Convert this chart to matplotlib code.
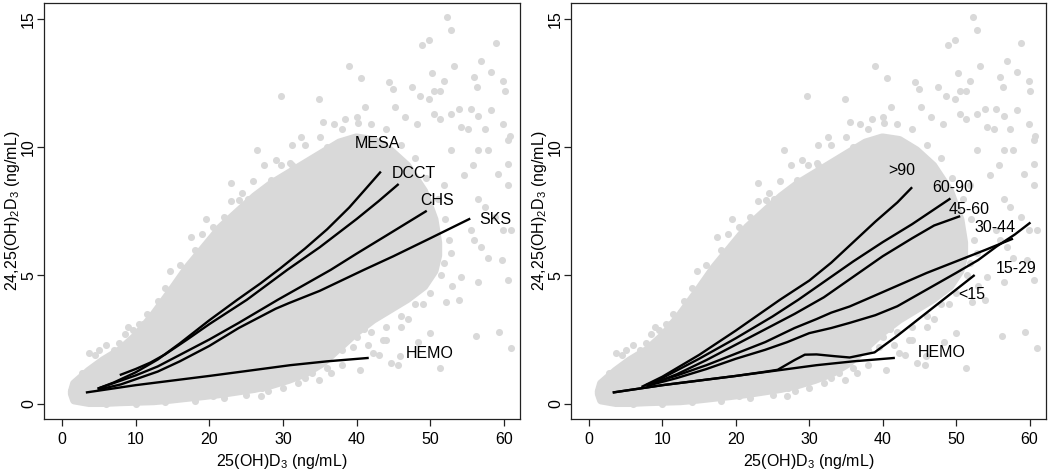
import numpy as np
import matplotlib.pyplot as plt

plt.rcParams['font.family'] = ['Liberation Sans', 'DejaVu Sans']
plt.rcParams['mathtext.fontset'] = 'custom'
plt.rcParams['mathtext.rm'] = 'Liberation Sans'
plt.rcParams['mathtext.it'] = 'Liberation Sans:italic'
plt.rcParams['mathtext.bf'] = 'Liberation Sans:bold'

GREY = '#d9d9d9'

# dense part of the point cloud (read as lower / upper envelope)
cloud_x = [1.3, 1.6, 3.6, 5.5, 7.8, 10.1, 12.4, 14.7, 16.9, 19.2, 21.5, 23.8, 26.1,
           28.4, 30.7, 33.0, 35.3, 37.6, 39.9, 42.2, 44.5, 46.8, 49.1, 50.5, 51.0]
cloud_lo = [0.4, 0.15, 0.05, 0.05, 0.08, 0.1, 0.12, 0.18, 0.25, 0.32, 0.4, 0.5, 0.6,
            0.75, 0.95, 1.2, 1.6, 2.2, 2.8, 3.3, 3.7, 4.1, 4.6, 5.2, 5.8]
cloud_hi = [0.5, 0.8, 1.3, 1.7, 2.1, 2.7, 3.5, 4.4, 5.3, 6.1, 6.9, 7.5, 8.1,
            8.6, 9.0, 9.4, 9.8, 10.2, 10.4, 10.3, 9.9, 9.3, 8.3, 7.2, 6.3]

# scattered points outside the dense part
pts_x = [52.3, 52.8, 48.9, 49.8, 58.9, 39.0, 53.2, 56.9, 58.3, 40.6, 50.3, 56.0, 59.9,
         44.4, 44.9, 47.5, 50.5, 51.4, 51.9, 56.4, 60.1, 29.7, 34.9, 48.6, 49.8, 41.1,
         45.2, 53.9, 52.8, 55.5, 56.5, 58.3, 38.5, 40.2, 46.6, 48.2, 50.5, 51.4, 54.2,
         55.1, 57.4, 59.9, 60.8, 60.6, 31.2, 36.9, 52.8, 56.5, 57.8, 60.6, 55.8, 59.2,
         60.6, 54.6, 51.9, 56.5, 57.4, 58.8, 59.9, 61.0, 55.5, 56.0, 56.9, 57.8, 59.7,
         52.8, 51.9, 54.2, 56.5, 60.6, 53.9, 52.2, 56.2, 59.4, 61.0, 50.0, 51.4, 45.7,
         45.9, 44.7, 43.6, 48.4, 42.2, 34.9, 27.1, 31.0, 29.8, 31.2, 28.4, 25.2, 24.1,
         21.1, 14.7, 15.6, 12.6, 9.6, 7.8, 5.0, 3.7, 2.7, 13.7, 38.0, 40.5, 41.5,
         43.0, 36.5, 33.0, 47.0, 49.0, 53.0, 46.0, 44.0, 41.0, 39.5, 17.5, 19.5, 23.0,
         11.0, 35.5, 32.5, 26.5, 2.0, 9.0, 20.5, 27.0,
         4.5, 6.0, 7.0, 8.5, 10.5, 11.5, 13.0, 14.0, 16.0, 17.0, 18.0, 19.0, 20.5, 22.0,
         23.0, 24.5, 26.0, 27.5, 29.0, 31.0, 33.0, 35.0, 36.0, 38.0, 40.0, 42.0, 44.0,
         46.0, 48.0, 49.5, 51.0, 52.0, 52.5, 51.5, 50.0, 48.0, 46.0, 44.0, 42.0, 40.0,
         38.0, 36.0, 34.0, 32.0, 30.0, 28.0, 25.0, 22.0, 18.0, 14.0, 10.0, 6.0, 2.5, 1.2]
pts_y = [15.09, 14.59, 13.99, 14.18, 14.09, 13.19, 13.19, 13.38, 12.93, 12.69, 12.89,
         12.73, 12.6, 12.56, 12.28, 12.37, 12.21, 12.21, 12.6, 12.37, 12.21, 11.99,
         11.89, 12.02, 11.89, 11.59, 11.56, 11.5, 11.31, 11.5, 11.24, 11.44, 11.11,
         10.94, 11.18, 10.92, 11.31, 11.11, 10.79, 10.72, 10.72, 10.92, 10.46, 10.27,
         10.1, 10.92, 9.88, 9.88, 9.88, 9.36, 9.3, 8.97, 8.52, 8.91, 8.52, 8.0, 7.68,
         7.29, 6.77, 6.77, 6.77, 6.38, 6.12, 5.67, 5.6, 5.86, 5.47, 4.95, 4.76, 4.82,
         4.05, 3.98, 2.62, 2.81, 2.17, 2.75, 1.39, 1.52, 1.84, 1.58, 2.49, 2.42, 1.97,
         0.93, 0.61, 1.13, 9.3, 9.3, 8.71, 7.97, 7.93, 6.83, 5.19, 4.17, 3.59, 2.88,
         2.36, 2.1, 1.97, 1.19, 3.53, 1.5, 1.3, 2.3, 1.9, 1.2, 1.0, 3.3, 3.9, 4.6,
         3.0, 2.5, 2.9, 2.2, 6.5, 7.2, 8.6, 3.1, 11.0, 10.4, 9.9, 0.15, 3.0, 0.3, 0.3,
         1.9, 2.3, 2.1, 2.7, 3.1, 3.5, 4.0, 4.5, 5.4, 5.0, 6.0, 6.6, 6.9, 7.3,
         7.9, 8.2, 8.7, 9.3, 9.5, 9.4, 10.1, 10.4, 10.0, 10.7, 11.2, 10.9, 10.7,
         10.1, 9.6, 8.8, 8.0, 7.2, 6.4, 5.0, 4.3, 3.9, 3.4, 3.0, 2.8, 2.6,
         2.1, 1.4, 1.2, 0.8, 0.6, 0.5, 0.35, 0.2, 0.1, 0.05, 0.0, 0.0, 0.2, 0.5]

# left panel: study curves
mesa_x = [5, 7, 10, 13, 16, 20, 23.8, 27, 29.7, 33, 36, 39, 41, 43.2]
mesa_y = [0.6, 0.82, 1.22, 1.72, 2.35, 3.25, 4.05, 4.7, 5.29, 6.05, 6.8, 7.65, 8.3, 9.02]
dcct_x = [8, 10, 12, 14, 17, 20, 25.1, 30.6, 35, 40, 43, 45.6]
dcct_y = [1.13, 1.35, 1.6, 1.92, 2.5, 3.1, 4.05, 5.22, 6.1, 7.2, 7.9, 8.54]
chs_x = [5, 8, 10, 13, 16, 20, 24, 29.3, 33, 36.5, 40, 44, 49.4]
chs_y = [0.6, 0.9, 1.1, 1.45, 1.9, 2.5, 3.15, 4.05, 4.65, 5.22, 5.85, 6.55, 7.5]
sks_x = [5, 8, 10, 13, 16, 20, 24, 27, 29, 30.8, 35, 41, 45, 50, 55.3]
sks_y = [0.55, 0.75, 0.95, 1.25, 1.65, 2.25, 2.95, 3.4, 3.7, 3.92, 4.4, 5.22, 5.75, 6.45, 7.2]
hemo_x = [3.4, 10, 15, 20, 25, 31, 36, 41.5]
hemo_y = [0.44, 0.72, 0.9, 1.08, 1.27, 1.5, 1.65, 1.78]

# right panel: eGFR curves
g90_x = [7.3, 10, 15, 20, 26, 30, 33, 36, 39, 42, 43.9]
g90_y = [0.67, 1.05, 1.9, 2.85, 4.05, 4.8, 5.5, 6.3, 7.1, 7.85, 8.41]
g60_x = [8.5, 10, 15, 20, 25, 28.5, 32, 36, 40, 44, 49.1]
g60_y = [0.8, 1.0, 1.75, 2.55, 3.4, 4.05, 4.75, 5.55, 6.3, 7.0, 7.98]
g45_x = [8.5, 12, 16, 20, 24, 28, 32, 36, 40, 44, 47, 50.4]
g45_y = [0.75, 1.15, 1.7, 2.3, 2.9, 3.5, 4.15, 4.95, 5.75, 6.45, 6.95, 7.3]
g30_x = [8, 12, 16, 20, 24, 28, 31, 33, 35.5, 38, 42, 46, 50, 54, 57.6]
g30_y = [0.75, 1.1, 1.5, 1.95, 2.4, 2.95, 3.3, 3.55, 3.79, 4.1, 4.6, 5.1, 5.55, 6.0, 6.42]
g15_x = [8, 12, 16, 20, 24, 27, 30, 33, 35.5, 39, 42, 46, 50, 53, 55.5, 58, 60.0]
g15_y = [0.7, 1.0, 1.35, 1.75, 2.1, 2.4, 2.75, 2.95, 3.15, 3.45, 3.8, 4.45, 5.1, 5.6, 6.13, 6.6, 7.04]
lt15_x = [3.4, 10, 15, 20, 23.9, 25.7, 28, 29.4, 31, 33.5, 35.5, 38.9, 42, 46, 50, 52.4]
lt15_y = [0.44, 0.72, 0.9, 1.08, 1.24, 1.32, 1.7, 1.91, 1.92, 1.85, 1.8, 2.0, 2.65, 3.55, 4.45, 4.99]

left_lines = [(mesa_x, mesa_y), (dcct_x, dcct_y), (chs_x, chs_y), (sks_x, sks_y), (hemo_x, hemo_y)]
left_labels = [('MESA', 42.9, 10.14), ('DCCT', 47.8, 8.99), ('CHS', 51.0, 7.93),
               ('SKS', 58.9, 7.2), ('HEMO', 50.0, 1.97)]
right_lines = [(g90_x, g90_y), (g60_x, g60_y), (g45_x, g45_y), (g30_x, g30_y),
               (g15_x, g15_y), (lt15_x, lt15_y), (hemo_x, hemo_y)]
right_labels = [('>90', 42.6, 9.1), ('60-90', 49.6, 8.45), ('45-60', 51.8, 7.59),
                ('30-44', 55.3, 6.89), ('15-29', 58.2, 5.29), ('<15', 52.1, 4.25),
                ('HEMO', 48.0, 2.0)]


def panel(ax, lines, labels):
    poly = ax.fill_between(cloud_x, cloud_lo, cloud_hi, color=GREY, lw=6, zorder=1)
    poly.set_joinstyle('round')
    ax.scatter(pts_x, pts_y, s=26, color=GREY, lw=0, zorder=1)
    for x, y in lines:
        ax.plot(x, y, color='black', lw=1.7, zorder=3)
    for txt, x, y in labels:
        ax.text(x, y, txt, fontsize=11.5, ha='center', va='center', zorder=4)
    ax.set_xlim(-2.4, 62.2)
    ax.set_ylim(-0.6, 15.62)
    ax.set_xticks([0, 10, 20, 30, 40, 50, 60])
    ax.set_yticks([0, 5, 10, 15])
    ax.tick_params(length=5.3, width=0.9, labelsize=11.5, color='#222222')
    ax.tick_params(axis='x', pad=4)
    ax.tick_params(axis='y', pad=0.5)
    for lab in ax.get_yticklabels():
        lab.set_rotation(90)
        lab.set_va('center')
    for s in ax.spines.values():
        s.set_linewidth(0.9)
        s.set_color('#222222')
    ax.set_xlabel(r'25(OH)D$_3$ (ng/mL)', fontsize=11.5, labelpad=4)
    ax.set_ylabel(r'24,25(OH)$_2$D$_3$ (ng/mL)', fontsize=11.5, va='center')
    ax.yaxis.set_label_coords(-0.066, 0.5)


fig = plt.figure(figsize=(10.5, 4.75), dpi=100)
ax1 = fig.add_axes([44.3 / 1050, 1 - 419 / 475, (520 - 44.3) / 1050, (419 - 3.3) / 475])
ax2 = fig.add_axes([571.3 / 1050, 1 - 419 / 475, (1045.7 - 571.3) / 1050, (419 - 3.3) / 475])
panel(ax1, left_lines, left_labels)
panel(ax2, right_lines, right_labels)

fig.savefig('out.png', dpi=100)
